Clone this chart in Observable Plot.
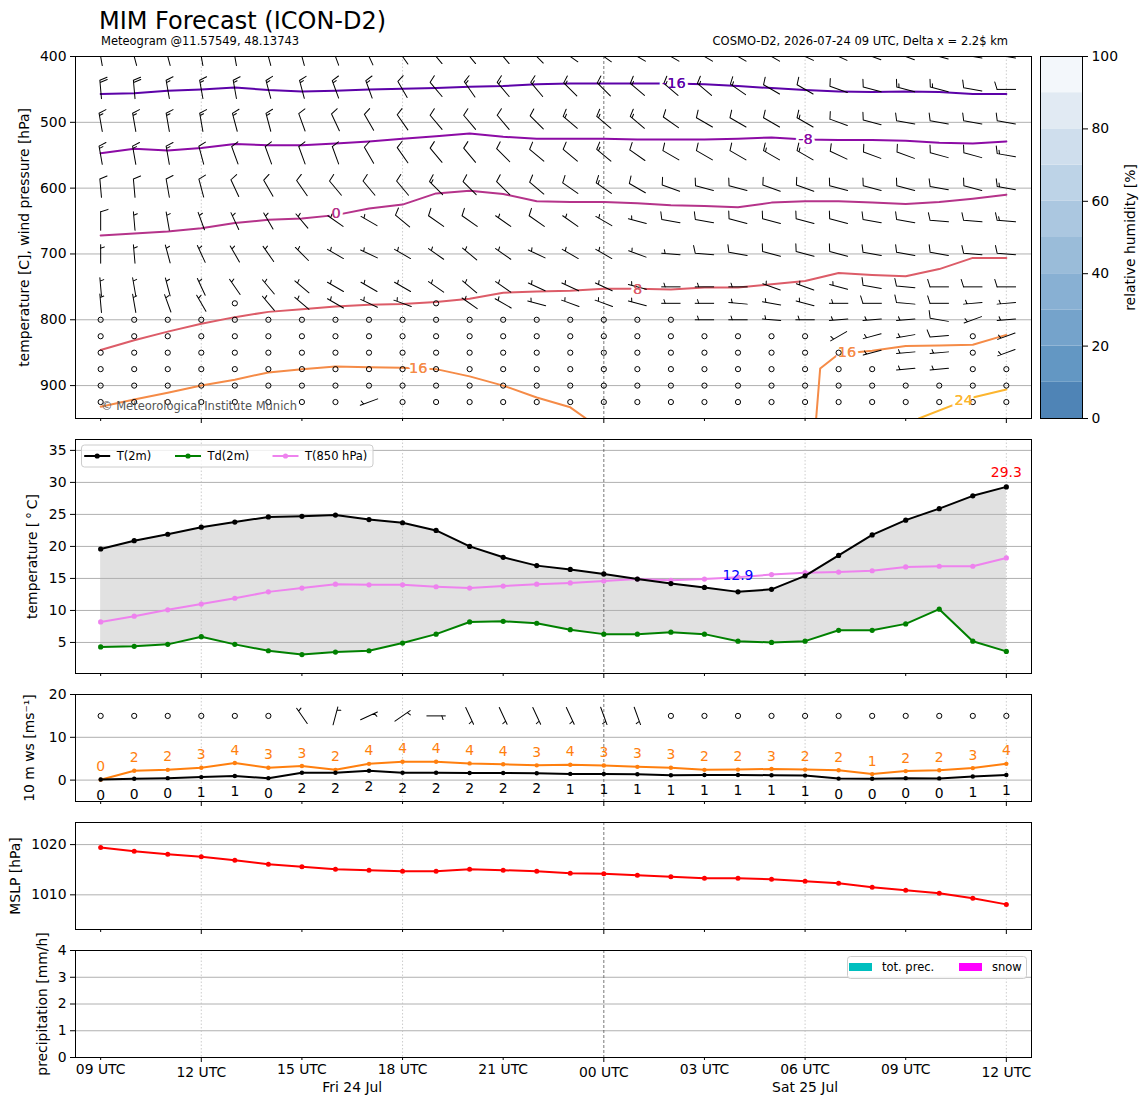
<!DOCTYPE html>
<html><head><meta charset="utf-8">
<script src="https://cdn.jsdelivr.net/npm/d3@7"></script>
<script src="https://cdn.jsdelivr.net/npm/@observablehq/plot@0.6"></script>
<style>
body{margin:0;background:#fff;}
#root{position:relative;width:1148px;height:1105px;overflow:hidden;font-family:"DejaVu Sans",sans-serif;background:#fff;}
#root svg{position:absolute;max-width:none;}
</style></head><body><div id="root"></div>
<script>
// ---------------- DATA ----------------
const hours = d3.range(28); // hourly steps, 09 UTC Fri 24 Jul .. 12 UTC Sat 25 Jul
const tickHours = [0,3,6,9,12,15,18,21,24,27];
const tickLabels = ["09 UTC","12 UTC","15 UTC","18 UTC","21 UTC","00 UTC","03 UTC","06 UTC","09 UTC","12 UTC"];
const majorHours = [3,15,27];
const dayHours = [7.5, 21];
const dayLabels = ["Fri 24 Jul","Sat 25 Jul"];
const midnightHours = [15];
const sixHourly = [3,9,21,27];

// surface temperatures [°C]
const t2m  = [19.6,20.9,21.9,23.0,23.8,24.6,24.7,24.9,24.2,23.7,22.5,20.0,18.3,17.0,16.4,15.7,14.9,14.2,13.6,12.9,13.3,15.4,18.6,21.8,24.1,25.9,27.9,29.3];
const td2m = [4.3,4.4,4.7,5.9,4.7,3.7,3.1,3.5,3.7,4.9,6.3,8.2,8.3,8.0,7.0,6.3,6.3,6.6,6.3,5.2,5.0,5.2,6.9,6.9,7.9,10.2,5.2,3.6];
const t850 = [8.2,9.1,10.1,11.0,11.9,12.9,13.5,14.1,14.0,14.0,13.7,13.5,13.8,14.1,14.3,14.6,14.9,14.7,14.9,15.2,15.6,15.9,16.0,16.2,16.8,16.9,16.9,18.2];

// 10 m wind [m/s]
const ws10   = [0.15,0.3,0.45,0.7,0.95,0.45,1.7,1.7,2.2,1.7,1.7,1.65,1.65,1.6,1.45,1.45,1.35,1.15,1.2,1.2,1.15,1.05,0.35,0.3,0.45,0.4,0.85,1.2];
const gust10 = [0.1,2.2,2.4,2.9,4.0,2.9,3.3,2.4,3.8,4.3,4.3,3.9,3.7,3.45,3.6,3.4,3.1,2.9,2.4,2.45,2.6,2.45,2.3,1.4,2.1,2.3,2.8,3.8];
const dir10  = [0,0,0,0,0,0,325,15,65,55,90,155,155,155,155,160,160,0,0,0,0,0,0,0,0,0,0,0];

// mean sea level pressure [hPa]
const mslp = [1019.4,1018.7,1018.1,1017.6,1016.9,1016.1,1015.6,1015.1,1014.9,1014.7,1014.7,1015.1,1014.9,1014.7,1014.3,1014.2,1013.9,1013.6,1013.3,1013.3,1013.1,1012.7,1012.3,1011.5,1010.9,1010.3,1009.3,1008.1];

// precipitation [mm/h]
const totPrec = [0,0,0,0,0,0,0,0,0,0,0,0,0,0,0,0,0,0,0,0,0,0,0,0,0,0,0,0];
const snowPrec = [0,0,0,0,0,0,0,0,0,0,0,0,0,0,0,0,0,0,0,0,0,0,0,0,0,0,0,0];

// upper-air wind barbs: direction [deg] and speed [kt, rounded]; 0 speed = calm
const levels = [400,450,500,550,600,650,700,750,775,800,825,850,875,900,925];
const dir400 = [350,345,345,350,350,345,345,340,335,325,320,320,320,315,305,305,300,300,300,300,300,295,295,290,290,285,280,280];
const spd400 = [15,15,15,15,15,15,15,15,15,15,15,15,15,15,15,15,15,15,15,15,15,15,15,15,15,15,15,15];
const dir450 = [355,355,350,350,350,345,345,340,340,330,320,325,320,320,315,315,310,310,310,305,300,300,290,285,285,285,280,270];
const spd450 = [20,20,15,15,15,15,15,15,15,10,10,15,15,15,15,15,15,15,15,15,10,10,10,10,15,15,10,10];
const dir500 = [350,350,350,350,345,345,340,335,330,325,320,320,320,315,310,310,310,305,300,300,300,300,290,285,280,280,280,280];
const spd500 = [15,15,15,15,15,15,10,10,10,10,10,10,10,10,15,15,15,10,10,10,10,15,10,10,10,10,10,10];
const dir550 = [350,350,350,345,340,340,340,340,330,325,320,320,315,310,310,310,305,300,300,300,300,300,295,290,290,285,285,280];
const spd550 = [15,15,15,10,10,10,10,10,10,10,10,10,10,10,10,15,10,10,10,10,15,15,10,10,10,10,10,15];
const dir600 = [355,355,350,345,335,330,325,320,320,320,315,315,315,310,305,305,300,290,285,285,290,290,285,285,285,280,285,280];
const spd600 = [10,10,10,10,10,10,10,10,10,10,15,10,10,10,10,15,10,10,10,10,10,10,10,10,10,10,10,15];
const dir650 = [0,355,350,340,335,330,320,305,300,310,305,305,305,305,305,300,285,280,280,285,285,285,285,280,280,275,275,275];
const spd650 = [10,5,5,5,5,5,5,5,5,10,10,10,5,10,5,5,5,10,10,10,10,10,10,10,10,10,10,15];
const dir700 = [0,355,345,335,330,325,315,300,295,300,305,310,305,295,300,300,290,275,275,280,285,285,285,280,280,280,275,275];
const spd700 = [5,5,5,5,5,5,5,5,5,5,5,5,5,5,5,5,5,5,10,10,10,10,10,10,10,10,10,10];
const dir750 = [355,350,345,335,325,320,310,300,300,300,305,310,305,295,295,295,285,270,270,270,290,290,285,280,275,270,270,270];
const spd750 = [5,5,5,5,5,5,5,5,5,5,5,5,5,5,5,5,5,5,5,5,5,5,5,10,10,10,10,10];
const dir775 = [355,350,340,330,0,320,310,300,295,290,0,305,300,285,290,290,285,270,270,275,280,285,270,270,275,270,265,265];
const spd775 = [5,5,5,5,0,5,5,5,5,5,0,5,5,5,5,5,5,5,5,5,5,5,5,10,10,10,5,5];
const dir800 = [0,0,0,0,0,0,0,0,0,0,0,0,0,0,0,0,0,0,270,270,275,270,265,265,265,280,250,265];
const spd800 = [0,0,0,0,0,0,0,0,0,0,0,0,0,0,0,0,0,0,5,5,5,5,5,5,5,10,5,5];
const dir825 = [0,0,0,0,0,0,0,0,0,0,0,0,0,0,0,0,0,0,0,0,0,0,240,255,260,265,0,250];
const spd825 = [0,0,0,0,0,0,0,0,0,0,0,0,0,0,0,0,0,0,0,0,0,0,5,5,5,10,0,5];
const dir850 = [0,0,0,0,0,0,0,0,0,0,0,0,0,0,0,0,0,0,0,0,0,0,0,255,265,265,0,250];
const spd850 = [0,0,0,0,0,0,0,0,0,0,0,0,0,0,0,0,0,0,0,0,0,0,0,5,5,5,0,5];
const dir875 = [0,0,0,0,0,0,0,0,0,0,0,0,0,0,0,0,0,0,0,0,0,0,0,0,265,265,0,0];
const spd875 = [0,0,0,0,0,0,0,0,0,0,0,0,0,0,0,0,0,0,0,0,0,0,0,0,5,5,0,0];
const dir900 = [0,0,0,0,0,0,0,0,0,0,0,0,0,0,0,0,0,0,0,0,0,0,0,0,0,0,0,0];
const spd900 = [0,0,0,0,0,0,0,0,0,0,0,0,0,0,0,0,0,0,0,0,0,0,0,0,0,0,0,0];
const dir925 = [0,0,0,0,0,0,0,0,250,0,0,0,0,0,0,0,0,0,0,0,0,0,0,0,0,0,0,0];
const spd925 = [0,0,0,0,0,0,0,0,5,0,0,0,0,0,0,0,0,0,0,0,0,0,0,0,0,0,0,0];

// isotherms (pressure [hPa] of each temperature contour)
const isoM16 = [457,456,452,450,447,451,453,452,450,449,448,446,445,442,441,441,441,441,442,445,448,451,453,454,453,454,457,457];
const isoM8  = [547,540,543,539,533,535,535,532,529,525,521,517,522,525,525,525,526,526,526,525,523,526,527,527,528,531,532,529];
const iso0   = [672,669,666,661,653,648,646,641,631,625,608,604,609,620,621,621,623,626,627,629,622,620,620,622,624,621,616,610];
const iso8   = [846,831,818,806,796,788,784,780,777,776,773,768,759,757,756,753,753,754,751,751,746,741,729,732,734,723,706,706];
const iso16aT = [0,1,2,3,4,5,6,7,8,9,10,11,12,13,14,14.47];
const iso16aP = [932,921,911,900,891,880,875,871,872,873,875,886,900,918,933,950];
const iso16bT = [21.33,21.45,22,23,24,25,26,27];
const iso16bP = [950,874,852,847,840,839,838,823];
const iso24T = [24.39,26,27];
const iso24P = [950,918,906];
const isoColors = ["#5c02a8","#8c0ba5","#b5338a","#dc5c68","#f58b47","#fcb52e"];
const isoLabelText = ["-16","-8","0","8","16","16","24"];
const isoLabelT = [17.09,21.01,7.02,16.01,9.47,22.25,25.73];
const isoLabelP = [440.5,525.6,639,754,873.7,849,923];
const isoLabelColor = ["#5c02a8","#8c0ba5","#b5338a","#dc5c68","#f58b47","#f58b47","#fcb52e"];

// relative humidity colorbar
const rhEdges = [0,10,20,30,40,50,60,70,80,90,100];
const rhColors = ["#4f84b6","#6397c3","#75a3cb","#88b0d3","#9abcd9","#abc7e0","#bdd3e7","#cfdeed","#e1eaf3","#f3f7fb"];
const rhTicks = [0,20,40,60,80,100];

// ---------------- HELPERS ----------------
const root = document.getElementById("root");
const W = 1148, ML = 75, MR = 117;
const xDomain = [-0.75, 27.75];
const BL = 18.5; // barb length px
const FS = 13.9;

function place(svg, left, top) {
  svg.style.position = "absolute";
  svg.style.left = left + "px";
  svg.style.top = top + "px";
  root.appendChild(svg);
}
const baseStyle = {fontFamily: "DejaVu Sans", fontSize: FS + "px", background: "transparent", overflow: "visible", color: "black"};

function xAxes(withLabels) {
  const minor = tickHours.filter(h => !majorHours.includes(h));
  const fmt = withLabels ? (h => tickLabels[tickHours.indexOf(h)]) : (() => "");
  return [
    Plot.axisX({ticks: minor, tickSize: 3, tickPadding: 4, tickFormat: fmt, label: null}),
    Plot.axisX({ticks: majorHours, tickSize: 5, tickPadding: 5, tickFormat: fmt, label: null})
  ];
}
function vlines() {
  return [
    Plot.ruleX(sixHourly, {stroke: "#c0c0c0", strokeWidth: 0.8, strokeDasharray: "1.5,2"}),
    Plot.ruleX(midnightHours, {stroke: "#555", strokeWidth: 0.8, strokeDasharray: "3,2"})
  ];
}
function ylab(text, dx) {
  return Plot.text([text], {text: d => d, frameAnchor: "left", textAnchor: "middle", lineAnchor: "middle", dx, rotate: -90, fontSize: FS});
}
function barbShape(speed) {
  return {
    draw(ctx, l) {
      ctx.moveTo(0, 0); ctx.lineTo(0, -l);
      const sp = 0.125 * l, h = 0.4 * l, w = 0.25 * l;
      let full = Math.floor(speed / 10);
      const half = (speed - full * 10) >= 5;
      let off = 0;
      for (let i = 0; i < full; i++) {
        ctx.moveTo(0, -l + off); ctx.lineTo(h, -l + off - w / 2);
        off += sp;
      }
      if (half) {
        if (off === 0) off = 1.5 * sp;
        ctx.moveTo(0, -l + off); ctx.lineTo(h / 2, -l + off - w / 4);
      }
    }
  };
}
function barbMarks(rows) {
  const classes = [5, 10, 15, 20];
  return [
    ...classes.map(s => Plot.vector(rows.filter(d => d.spd === s), {
      x: "t", y: "y", rotate: "dir", length: BL, anchor: "middle", shape: barbShape(s),
      stroke: "black", strokeWidth: 1, clip: true})),
    Plot.dot(rows.filter(d => d.spd === 0), {x: "t", y: "y", r: 2.6, stroke: "black", strokeWidth: 1, fill: "none", clip: true})
  ];
}

// ---------------- TITLES ----------------
const head = d3.create("svg").attr("width", W).attr("height", 50)
  .style("left", "0px").style("top", "0px").style("font-family", "DejaVu Sans");
head.append("text").attr("x", 99).attr("y", 29.3).attr("font-size", 24).text("MIM Forecast (ICON-D2)");
head.append("text").attr("x", 101).attr("y", 44.5).attr("font-size", 11.5).text("Meteogram @11.57549, 48.13743");
head.append("text").attr("x", 1008).attr("y", 44.5).attr("font-size", 11.5).attr("text-anchor", "end").text("COSMO-D2, 2026-07-24 09 UTC, Delta x = 2.2$ km");
root.appendChild(head.node());

// ---------------- PANEL 1: upper air ----------------
const dirRows = [dir400,dir450,dir500,dir550,dir600,dir650,dir700,dir750,dir775,dir800,dir825,dir850,dir875,dir900,dir925];
const spdRows = [spd400,spd450,spd500,spd550,spd600,spd650,spd700,spd750,spd775,spd800,spd825,spd850,spd875,spd900,spd925];
const upperBarbs = [];
levels.forEach((p, li) => hours.forEach(h => upperBarbs.push({t: h, y: p, dir: dirRows[li][h], spd: spdRows[li][h]})));

const isoRows = [];
[[hours, isoM16, 0], [hours, isoM8, 1], [hours, iso0, 2], [hours, iso8, 3], [iso16aT, iso16aP, 4], [iso16bT, iso16bP, 4], [iso24T, iso24P, 5]]
  .forEach(([T, P, ci], si) => T.forEach((t, i) => isoRows.push({t, p: P[i], seg: si, color: isoColors[ci]})));
const isoLabels = isoLabelText.map((s, i) => ({t: isoLabelT[i], p: isoLabelP[i], s, color: isoLabelColor[i]}));

const p1 = Plot.plot({
  width: W, height: 362 + 10 + 12, marginTop: 10, marginBottom: 12, marginLeft: ML, marginRight: MR,
  x: {domain: xDomain}, y: {domain: [950, 400]}, style: baseStyle,
  marks: [
    Plot.ruleY([500,600,700,800,900], {stroke: "#b0b0b0", strokeWidth: 1}),
    ...vlines(),
    Plot.line(isoRows, {x: "t", y: "p", z: "seg", stroke: "color", strokeWidth: 2, clip: true}),
    Plot.text(isoLabels, {x: "t", y: "p", text: "s", fill: "color", stroke: "white", strokeWidth: 6, fontSize: 14.5}),
    ...barbMarks(upperBarbs),
    Plot.text(isoLabels, {x: "t", y: "p", text: "s", fill: "color", fontSize: 14.5}),
    Plot.text(["© Meteorological Institute Munich"], {text: d => d, frameAnchor: "bottom-left", dx: 25.5, dy: -8.5, textAnchor: "start", fill: "#555", fontSize: 11.5}),
    Plot.frame({stroke: "black", strokeWidth: 1}),
    Plot.axisY({ticks: [400,500,600,700,800,900], tickSize: 5, tickPadding: 4, tickFormat: "d", label: null}),
    ...xAxes(false),
    ylab("temperature [C], wind pressure [hPa]", -51)
  ]
});
place(p1, 0, 46);

// colorbar
const rhBands = rhColors.map((c, i) => ({lo: rhEdges[i], hi: rhEdges[i + 1], color: c}));
const cb = Plot.plot({
  width: 113, height: 362 + 20, marginTop: 10, marginBottom: 10, marginLeft: 5, marginRight: 66,
  x: {domain: [0, 1], axis: null}, y: {domain: [0, 100]}, style: baseStyle,
  marks: [
    Plot.rect(rhBands, {x1: d => 0, x2: d => 1, y1: "lo", y2: "hi", fill: "color"}),
    Plot.frame({stroke: "black", strokeWidth: 1}),
    Plot.axisY({anchor: "right", ticks: rhTicks, tickSize: 5, tickPadding: 4, tickFormat: "d", label: null}),
    Plot.text(["relative humidity [%]"], {text: d => d, frameAnchor: "right", textAnchor: "middle", lineAnchor: "middle", dx: 48, rotate: -90, fontSize: FS})
  ]
});
place(cb, 1035, 46);

// ---------------- PANEL 2: temperatures ----------------
const tRows = hours.map(h => ({t: h, t2: t2m[h], td: td2m[h], t8: t850[h]}));
const iMax = d3.maxIndex(t2m), iMin = d3.minIndex(t2m);
const p2 = Plot.plot({
  width: W, height: 234 + 10 + 12, marginTop: 10, marginBottom: 12, marginLeft: ML, marginRight: MR,
  x: {domain: xDomain}, y: {domain: [0.15, 36.7]}, style: baseStyle,
  marks: [
    Plot.areaY(tRows, {x: "t", y1: "td", y2: "t2", fill: "#e1e1e1"}),
    Plot.ruleY([5,10,15,20,25,30,35], {stroke: "#b0b0b0", strokeWidth: 1}),
    ...vlines(),
    Plot.line(tRows, {x: "t", y: "t8", stroke: "#ee82ee", strokeWidth: 2}),
    Plot.dot(tRows, {x: "t", y: "t8", r: 2.6, fill: "#ee82ee"}),
    Plot.line(tRows, {x: "t", y: "td", stroke: "#008000", strokeWidth: 2}),
    Plot.dot(tRows, {x: "t", y: "td", r: 2.6, fill: "#008000"}),
    Plot.line(tRows, {x: "t", y: "t2", stroke: "black", strokeWidth: 2}),
    Plot.dot(tRows, {x: "t", y: "t2", r: 2.6, fill: "black"}),
    Plot.text([iMax], {x: i => i, y: i => t2m[i], text: i => t2m[i].toFixed(1), dy: -14.5, fill: "red", fontSize: FS}),
    Plot.text([iMin], {x: i => i, y: i => t2m[i], text: i => t2m[i].toFixed(1), dy: -16.5, fill: "blue", fontSize: FS}),
    Plot.frame({stroke: "black", strokeWidth: 1}),
    Plot.axisY({ticks: [5,10,15,20,25,30,35], tickSize: 5, tickPadding: 4, tickFormat: "d", label: null}),
    ...xAxes(false),
    ylab("temperature [\u2009°\u2009C]", -42.5)
  ]
});
place(p2, 0, 429);

// legend of panel 2
const lg = d3.create("svg").attr("width", 300).attr("height", 30).style("left", "78px").style("top", "442px").style("font-family", "DejaVu Sans");
lg.append("rect").attr("x", 3.5).attr("y", 3).attr("width", 291.5).attr("height", 22).attr("rx", 3)
  .attr("fill", "white").attr("fill-opacity", 0.8).attr("stroke", "#cccccc");
[["T(2m)", "black", 84.2], ["Td(2m)", "#008000", 175], ["T(850 hPa)", "#ee82ee", 272.5]].forEach(([lab, col, x0]) => {
  const x = x0 - 78;
  lg.append("line").attr("x1", x).attr("x2", x + 26).attr("y1", 14).attr("y2", 14).attr("stroke", col).attr("stroke-width", 2);
  lg.append("circle").attr("cx", x + 13).attr("cy", 14).attr("r", 2.6).attr("fill", col);
  lg.append("text").attr("x", x + 32.5).attr("y", 18).attr("font-size", 11.5).text(lab);
});
root.appendChild(lg.node());

// ---------------- PANEL 3: 10 m wind ----------------
const wRows = hours.map(h => ({t: h, ws: ws10[h], g: gust10[h]}));
const sfcBarbs = hours.map(h => ({t: h, y: 15, dir: dir10[h], spd: Math.round(ws10[h] * 1.944 / 5) * 5}));
const p3 = Plot.plot({
  width: W, height: 107 + 10 + 12, marginTop: 10, marginBottom: 12, marginLeft: ML, marginRight: MR,
  x: {domain: xDomain}, y: {domain: [-5, 20]}, style: baseStyle,
  marks: [
    Plot.ruleY([0, 10], {stroke: "#b0b0b0", strokeWidth: 1}),
    ...vlines(),
    Plot.line(wRows, {x: "t", y: "g", stroke: "#ff7f0e", strokeWidth: 2}),
    Plot.dot(wRows, {x: "t", y: "g", r: 2.2, fill: "#ff7f0e"}),
    Plot.line(wRows, {x: "t", y: "ws", stroke: "black", strokeWidth: 2}),
    Plot.dot(wRows, {x: "t", y: "ws", r: 2.2, fill: "black"}),
    Plot.text(wRows, {x: "t", y: "g", text: d => String(Math.round(d.g)), dy: -12.8, fill: "#ff7f0e", fontSize: FS}),
    Plot.text(wRows, {x: "t", y: "ws", text: d => String(Math.round(d.ws)), dy: 15.6, fill: "black", fontSize: FS}),
    ...barbMarks(sfcBarbs),
    Plot.frame({stroke: "black", strokeWidth: 1}),
    Plot.axisY({ticks: [0, 10, 20], tickSize: 5, tickPadding: 4, tickFormat: "d", label: null}),
    ...xAxes(false),
    ylab("10 m ws [ms⁻¹]", -46)
  ]
});
place(p3, 0, 684);

// ---------------- PANEL 4: MSLP ----------------
const pRows = hours.map(h => ({t: h, p: mslp[h]}));
const pExt = d3.extent(mslp);
const p4 = Plot.plot({
  width: W, height: 107 + 10 + 12, marginTop: 10, marginBottom: 12, marginLeft: ML, marginRight: MR,
  x: {domain: xDomain}, y: {domain: [pExt[0] - 5, pExt[1] + 5]}, style: baseStyle,
  marks: [
    Plot.ruleY([1010, 1020], {stroke: "#b0b0b0", strokeWidth: 1}),
    ...vlines(),
    Plot.line(pRows, {x: "t", y: "p", stroke: "red", strokeWidth: 2}),
    Plot.dot(pRows, {x: "t", y: "p", r: 2.5, fill: "red"}),
    Plot.frame({stroke: "black", strokeWidth: 1}),
    Plot.axisY({ticks: [1010, 1020], tickSize: 5, tickPadding: 4, tickFormat: "d", label: null}),
    ...xAxes(false),
    ylab("MSLP [hPa]", -60)
  ]
});
place(p4, 0, 812);

// ---------------- PANEL 5: precipitation ----------------
const prRows = hours.map(h => ({t: h, tot: totPrec[h], snow: snowPrec[h]}));
const dayRows = dayLabels.map((s, i) => ({t: dayHours[i], s}));
const p5 = Plot.plot({
  width: W, height: 107 + 10 + 48, marginTop: 10, marginBottom: 48, marginLeft: ML, marginRight: MR,
  x: {domain: xDomain}, y: {domain: [0, 4]}, style: baseStyle,
  marks: [
    Plot.ruleY([1, 2, 3], {stroke: "#b0b0b0", strokeWidth: 1}),
    ...vlines(),
    Plot.rectY(prRows, {x1: d => d.t - 0.4, x2: d => d.t + 0.4, y: "tot", fill: "#00bfbf"}),
    Plot.rectY(prRows, {x1: d => d.t - 0.4, x2: d => d.t + 0.4, y: "snow", fill: "#ff00ff"}),
    Plot.frame({stroke: "black", strokeWidth: 1}),
    Plot.axisY({ticks: [0, 1, 2, 3, 4], tickSize: 5, tickPadding: 4, tickFormat: "d", label: null}),
    ...xAxes(true),
    Plot.text(dayRows, {x: "t", text: "s", frameAnchor: "bottom", lineAnchor: "middle", dy: 30.5, fontSize: FS}),
    ylab("precipitation [mm/h]", -32.5)
  ]
});
place(p5, 0, 940);

// legend of panel 5
const lg5 = d3.create("svg").attr("width", 185).attr("height", 28).style("left", "845px").style("top", "954px").style("font-family", "DejaVu Sans");
lg5.append("rect").attr("x", 2.5).attr("y", 2.5).attr("width", 179).attr("height", 22).attr("rx", 3)
  .attr("fill", "white").attr("fill-opacity", 0.8).attr("stroke", "#cccccc");
[["tot. prec.", "#00bfbf", 849], ["snow", "#ff00ff", 959]].forEach(([lab, col, x0]) => {
  const x = x0 - 845;
  lg5.append("rect").attr("x", x).attr("y", 9).attr("width", 23).attr("height", 8).attr("fill", col);
  lg5.append("text").attr("x", x + 33).attr("y", 17).attr("font-size", 11.5).text(lab);
});
root.appendChild(lg5.node());
</script></body></html>
